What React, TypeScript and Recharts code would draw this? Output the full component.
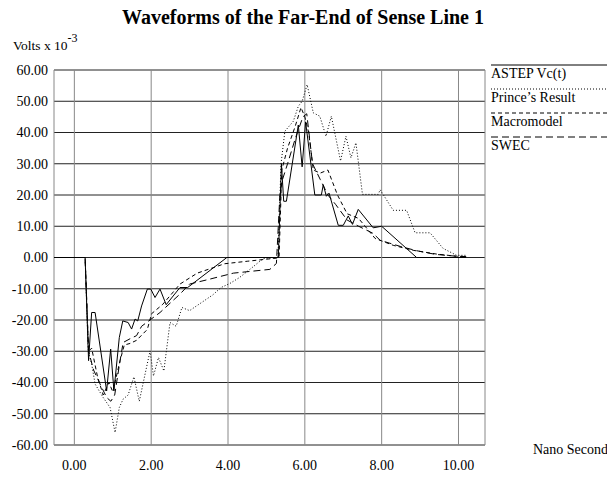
import { CartesianGrid, Line, LineChart, XAxis, YAxis } from "recharts"

// time (ns), volts x 10^-3
const astep = [
  [-0.53, 0], [0.28, 0], [0.37, -33], [0.45, -17.6], [0.54, -17.6], [0.84, -42.7],
  [0.945, -29.3], [1.03, -42.7], [1.17, -25.6], [1.26, -20.3], [1.4, -20.8], [1.49, -22.9],
  [1.58, -19.7], [1.65, -20.3], [1.75, -15.5], [1.9, -10.1], [1.99, -10.1], [2.1, -12.8],
  [2.23, -10.1], [2.39, -15.1], [2.75, -9.6], [2.95, -9.6], [3.97, 0], [5.31, 0],
  [5.39, 30], [5.45, 18], [5.52, 18], [5.83, 42.4], [5.93, 29], [6.02, 43.4], [6.26, 20],
  [6.43, 20], [6.48, 23.3], [6.56, 19.6], [6.63, 20.6], [6.87, 10.3], [7.0, 10.3],
  [7.13, 13.3], [7.24, 10.6], [7.39, 15.4], [7.78, 9.5], [8.0, 10], [8.91, 0], [10.2, 0],
]

const prince = [
  [-0.53, 0], [0.28, 0], [0.36, -30], [0.45, -34], [0.54, -40.5], [0.75, -44.8],
  [0.93, -48], [1.06, -56], [1.17, -48], [1.27, -45.3], [1.4, -44], [1.55, -38.2],
  [1.69, -46], [1.97, -29.9], [2.06, -37.9], [2.19, -32], [2.33, -36.3], [2.49, -20.8],
  [2.65, -22], [2.8, -16], [3.0, -17], [3.3, -14.5], [3.6, -12], [3.82, -9.6], [4.05, -8.3],
  [4.3, -6.4], [4.6, -3.5], [4.92, -0.3], [5.3, 0], [5.38, 30], [5.48, 40.4], [5.7, 43.6],
  [5.83, 48.4], [5.93, 50], [6.06, 55.3], [6.22, 46.3], [6.39, 45.2], [6.55, 38.8],
  [6.69, 45.2], [6.93, 30.9], [7.07, 38.8], [7.2, 31.9], [7.33, 36.7], [7.5, 20.2],
  [7.91, 20.2], [7.96, 21.7], [8.3, 15.1], [8.65, 15.1], [8.87, 7.9], [9.26, 7.9],
  [9.6, 2.9], [9.95, 0.7], [10.19, 0.7],
]

const macromodel = [
  [-0.53, 0], [0.28, 0], [0.37, -30], [0.45, -29], [0.6, -38], [0.75, -44], [0.9, -40],
  [1.0, -43], [1.19, -33], [1.3, -28], [1.45, -27.5], [1.62, -26.5], [1.9, -23], [2.01, -18],
  [2.3, -15], [2.75, -8.5], [3.2, -5], [3.91, -2], [4.5, -1.2], [5.26, -0.2], [5.33, 0],
  [5.4, 28], [5.55, 35], [5.75, 42], [5.9, 48], [6.0, 45], [6.1, 40], [6.22, 28], [6.4, 27],
  [6.6, 28], [6.85, 20], [7.1, 14], [7.4, 12.5], [7.83, 6.1], [8.3, 3.9], [8.82, 2.3],
  [9.43, 1.1], [9.95, 0.4], [10.2, 0.3],
]

const swec = [
  [-0.53, 0], [0.28, 0], [0.37, -30], [0.5, -36], [0.67, -40.5], [0.84, -44.8], [0.95, -46],
  [1.05, -44], [1.19, -33], [1.27, -27.2], [1.45, -26], [1.62, -25], [1.75, -22], [2.23, -17.6],
  [2.75, -11.7], [3.0, -8.5], [3.5, -7], [4.14, -5], [5.09, -3.8], [5.26, -1.9], [5.35, 20],
  [5.42, 25], [5.55, 30], [5.75, 38], [5.95, 45], [6.05, 46], [6.2, 30], [6.4, 25], [6.6, 20],
  [6.8, 17], [7.1, 12], [7.4, 10], [7.78, 7.7], [7.96, 5.5], [8.5, 3.5], [8.9, 2.2],
  [9.4, 1], [9.95, 0.4], [10.2, 0.3],
]

const seriesNames = ["ASTEP Vc(t)", "Prince\u2019s Result", "Macromodel", "SWEC"]
const xTicks = [0, 2, 4, 6, 8, 10]
const yTicks = [60, 50, 40, 30, 20, 10, 0, -10, -20, -30, -40, -50, -60]

const toPoints = (arr: number[][]) => arr.map(([t, v]) => ({ t, v }))

const serif = '"Liberation Serif", "Times New Roman", serif'
const dashes = [undefined, "1 2", "4 3", "7 4"]
const seriesData = [astep, prince, macromodel, swec]

export default function App() {
  return (
    <div style={{ position: "absolute", left: 0, top: 0, width: 607, height: 479, background: "#fff", fontFamily: serif }}>
      <LineChart width={607} height={479} margin={{ top: 70, right: 122, bottom: 0, left: 0 }}>
        <CartesianGrid vertical={false} stroke="#222" strokeWidth={1} />
        <CartesianGrid horizontal={false} stroke="#888" strokeWidth={1} />
        <XAxis
          type="number"
          dataKey="t"
          domain={[-0.53, 10.69]}
          ticks={xTicks}
          tickFormatter={(v) => v.toFixed(2)}
          axisLine={false}
          tickLine={false}
          tickSize={0}
          tickMargin={15}
          height={34}
          allowDataOverflow
          tick={{ fill: "#000", fontSize: 14, fontFamily: serif }}
        />
        <YAxis
          type="number"
          domain={[-60, 60]}
          ticks={yTicks}
          tickFormatter={(v) => v.toFixed(2)}
          axisLine={false}
          tickLine={false}
          tickSize={0}
          tickMargin={6}
          width={54}
          interval={0}
          tick={{ fill: "#000", fontSize: 14, fontFamily: serif }}
        />
        {seriesData.map((s, i) => (
          <Line
            key={seriesNames[i]}
            data={toPoints(s)}
            dataKey="v"
            type="linear"
            stroke="#000"
            strokeWidth={1}
            strokeDasharray={dashes[i]}
            dot={false}
            activeDot={false}
            isAnimationActive={false}
          />
        ))}
      </LineChart>
      <svg width={607} height={479} style={{ position: "absolute", left: 0, top: 0, pointerEvents: "none" }}>
        <text x={303} y={24} textAnchor="middle" fontSize={20} fontWeight="bold" fontFamily={serif}>
          Waveforms of the Far-End of Sense Line 1
        </text>
        <text x={13} y={50} fontSize={13.5} fontFamily={serif}>
          Volts x 10<tspan dy={-8} fontSize={12}>-3</tspan>
        </text>
        <text x={533} y={454} fontSize={14} fontFamily={serif}>Nano Second</text>
        {seriesNames.map((name, i) => (
          <g key={name}>
            <line x1={491} x2={607} y1={65 + 24 * i} y2={65 + 24 * i} stroke="#000" strokeDasharray={dashes[i]} />
            <text x={491} y={78 + 24 * i} fontSize={14} fontFamily={serif}>{name}</text>
          </g>
        ))}
      </svg>
    </div>
  )
}
